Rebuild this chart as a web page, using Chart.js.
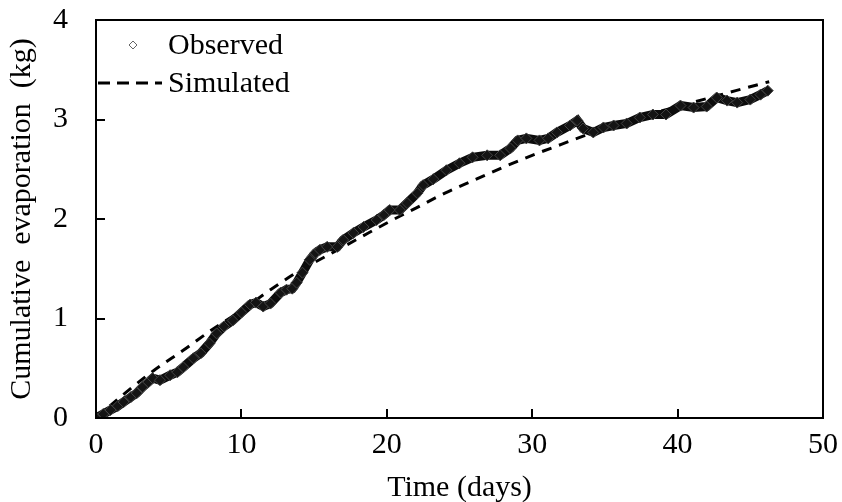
<!DOCTYPE html>
<html>
<head>
<meta charset="utf-8">
<script src="https://cdn.jsdelivr.net/npm/chart.js@4/dist/chart.umd.min.js"></script>
<style>
    body { margin: 0; background: #fff; }
    #wrap { width: 842px; height: 502px; }
</style>
</head>
<body>
<div id="wrap"><canvas id="evapChart" width="842" height="502"></canvas></div>
<script>
// observed cumulative evaporation
const obsDays = [0, 0.5, 1.0, 1.5, 1.9, 2.4, 2.8, 3.2, 3.6, 3.9, 4.4, 5.1, 5.6, 6.0, 6.7, 7.2, 7.8, 8.3, 8.8, 9.4,
    10.0, 10.6, 11.0, 11.5, 12.0, 12.7, 13.1, 13.5, 13.8, 14.2, 14.7, 15.1, 15.4, 15.9, 16.6, 17.0, 17.7, 18.4, 19.3, 19.8,
    20.2, 20.9, 21.4, 22.1, 22.5, 23.2, 24.1, 25.0, 25.9, 26.9, 27.8, 28.5, 29.0, 29.6, 30.5, 31.1, 31.7, 32.6, 33.1, 33.5,
    34.2, 34.9, 35.6, 36.5, 37.4, 38.3, 39.2, 40.2, 41.1, 42.0, 42.7, 43.4, 44.1, 45.0, 45.7, 46.2];
const obsKg = [0.00, 0.04, 0.08, 0.12, 0.16, 0.21, 0.25, 0.31, 0.36, 0.40, 0.38, 0.43, 0.46, 0.51, 0.60, 0.65, 0.75, 0.85, 0.92, 0.98,
    1.06, 1.14, 1.16, 1.12, 1.15, 1.26, 1.29, 1.30, 1.36, 1.46, 1.59, 1.66, 1.69, 1.72, 1.72, 1.79, 1.86, 1.92, 1.99, 2.04,
    2.09, 2.09, 2.16, 2.26, 2.34, 2.40, 2.49, 2.56, 2.62, 2.64, 2.64, 2.71, 2.79, 2.81, 2.79, 2.81, 2.87, 2.94, 2.99, 2.91,
    2.87, 2.92, 2.94, 2.96, 3.02, 3.05, 3.05, 3.14, 3.12, 3.13, 3.22, 3.19, 3.17, 3.20, 3.25, 3.29];

// simulated curve
const simDays = [0, 2, 4, 6, 8, 10, 12, 14, 16, 18, 20, 22, 24, 26, 28, 30, 32, 34, 36, 38, 40, 42, 44, 46.3];
const simKg = [0, 0.25, 0.48, 0.68, 0.89, 1.08, 1.29, 1.48, 1.64, 1.80, 1.96, 2.11, 2.26, 2.39, 2.52, 2.64, 2.75, 2.86, 2.96, 3.05, 3.13, 3.21, 3.29, 3.38];

const xTicks = [0, 10, 20, 30, 40, 50];
const yTicks = [0, 1, 2, 3, 4];

const FONT = "'Liberation Serif', 'Times New Roman', serif";

function toPoints(xs, ys) {
    return xs.map((x, i) => ({ x: x, y: ys[i] }));
}

// frame, inward ticks and the in-plot legend
const framePlugin = {
    id: 'frame',
    afterDraw(chart) {
        const ctx = chart.ctx;
        const a = chart.chartArea;
        const xs = chart.scales.x, ys = chart.scales.y;
        ctx.save();
        ctx.strokeStyle = '#000';
        ctx.lineWidth = 2;
        ctx.strokeRect(a.left, a.top, a.right - a.left, a.bottom - a.top);
        ctx.beginPath();
        xTicks.forEach(v => {
            const px = Math.round(xs.getPixelForValue(v));
            ctx.moveTo(px, a.bottom);
            ctx.lineTo(px, a.bottom - 9);
        });
        yTicks.forEach(v => {
            const py = Math.round(ys.getPixelForValue(v));
            ctx.moveTo(a.left, py);
            ctx.lineTo(a.left + 9, py);
        });
        ctx.stroke();

        // legend
        const ds = chart.data.datasets;
        ctx.font = '30px ' + FONT;
        ctx.textBaseline = 'middle';
        ctx.textAlign = 'left';

        const mx = 133, my = 45, r = 4;
        ctx.beginPath();
        ctx.moveTo(mx, my - r);
        ctx.lineTo(mx + r, my);
        ctx.lineTo(mx, my + r);
        ctx.lineTo(mx - r, my);
        ctx.closePath();
        ctx.fillStyle = '#fff';
        ctx.fill();
        ctx.strokeStyle = '#666';
        ctx.lineWidth = 1;
        ctx.stroke();
        ctx.fillStyle = '#000';
        ctx.fillText(ds[0].label, 168, 46);

        ctx.beginPath();
        ctx.setLineDash([12, 7]);
        ctx.strokeStyle = '#000';
        ctx.lineWidth = 3;
        ctx.moveTo(98, 83);
        ctx.lineTo(162, 83);
        ctx.stroke();
        ctx.setLineDash([]);
        ctx.fillText(ds[1].label, 168, 84);
        ctx.restore();
    }
};

new Chart(document.getElementById('evapChart'), {
    type: 'scatter',
    data: {
        datasets: [{
            label: 'Observed',
            data: toPoints(obsDays, obsKg),
            showLine: true,
            borderColor: '#0c0c0c',
            borderWidth: 9,
            pointStyle: 'rectRot',
            pointRadius: 5.5,
            pointBackgroundColor: '#141414',
            pointBorderColor: '#444',
            pointBorderWidth: 1,
            tension: 0
        }, {
            label: 'Simulated',
            data: toPoints(simDays, simKg),
            showLine: true,
            borderColor: '#000',
            borderWidth: 3,
            borderDash: [10, 8],
            pointRadius: 0,
            tension: 0.4,
            cubicInterpolationMode: 'monotone'
        }]
    },
    options: {
        responsive: false,
        animation: false,
        layout: { padding: { left: 0, top: 20, right: 19, bottom: 0 } },
        plugins: {
            legend: { display: false },
            tooltip: { enabled: false }
        },
        scales: {
            x: {
                type: 'linear',
                min: 0,
                max: 50,
                afterFit(scale) {
                    scale.height = 84;
                    scale.paddingLeft = 0;
                    scale.paddingRight = 0;
                },
                afterBuildTicks(scale) { scale.ticks = xTicks.map(v => ({ value: v })); },
                grid: { display: false },
                border: { display: false },
                ticks: { color: '#000', padding: 1, maxRotation: 0, font: { family: FONT, size: 30 } },
                title: {
                    display: true,
                    text: 'Time (days)',
                    color: '#000',
                    padding: { top: 0, bottom: -4 },
                    font: { family: FONT, size: 30 }
                }
            },
            y: {
                min: 0,
                max: 4,
                afterFit(scale) {
                    scale.width = 96;
                    scale.paddingTop = 0;
                    scale.paddingBottom = 0;
                },
                afterBuildTicks(scale) { scale.ticks = yTicks.map(v => ({ value: v })); },
                grid: { display: false },
                border: { display: false },
                ticks: { color: '#000', padding: 20, font: { family: FONT, size: 30 } },
                title: {
                    display: true,
                    text: 'Cumulative  evaporation  (kg)',
                    color: '#000',
                    padding: { top: 4, bottom: 0 },
                    font: { family: FONT, size: 30 }
                }
            }
        }
    },
    plugins: [framePlugin]
});
</script>
</body>
</html>
